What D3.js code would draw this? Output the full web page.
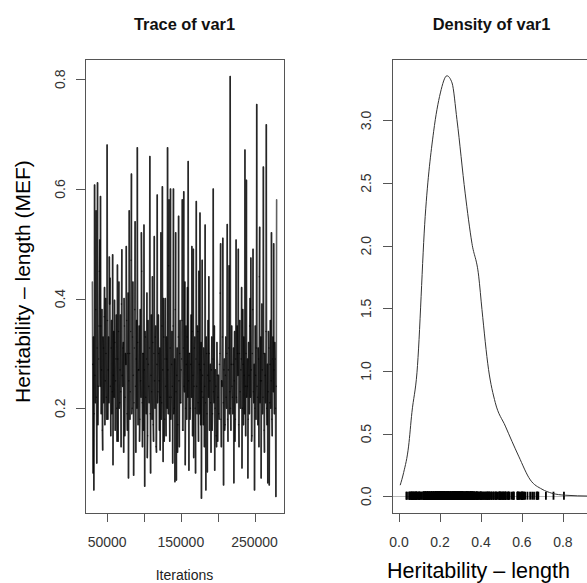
<!DOCTYPE html>
<html>
<head>
<meta charset="utf-8">
<script src="https://cdn.jsdelivr.net/npm/d3@7"></script>
<style>
  body { margin: 0; background: #fff; }
  svg { display: block; }
  text { font-family: "Liberation Sans", Arial, sans-serif; }
</style>
</head>
<body>
<div id="viz"></div>
<script>
'use strict';

// Chain of var1, one sample kept every 500 iterations from 30000 on.
const traceStart = 30000;
const traceThin = 500;
const traceValues = [
  0.43,0.28, 0.082,0.33, 0.051,0.19, 0.607,0.26, 0.21,0.38, 0.56,0.22, 0.10,0.31, 0.611,0.17, 0.24,0.29, 0.35,0.45,
  0.507,0.24, 0.586,0.35, 0.19,0.27, 0.38,0.16, 0.124,0.33, 0.31,0.21, 0.367,0.42, 0.17,0.25, 0.40,0.30, 0.22,0.18,
  0.68,0.36, 0.18,0.27, 0.33,0.21, 0.476,0.39, 0.437,0.24, 0.15,0.31, 0.36,0.19, 0.23,0.48, 0.097,0.26, 0.34,0.22,
  0.397,0.32, 0.16,0.25, 0.29,0.37, 0.20,0.14, 0.461,0.29, 0.14,0.34, 0.43,0.20, 0.21,0.27, 0.37,0.23, 0.13,0.39,
  0.489,0.26, 0.24,0.31, 0.32,0.12, 0.40,0.35, 0.15,0.22, 0.30,0.28, 0.495,0.36, 0.19,0.16, 0.30,0.41, 0.073,0.25,
  0.56,0.30, 0.18,0.23, 0.34,0.47, 0.627,0.19, 0.20,0.33, 0.43,0.26, 0.078,0.21, 0.31,0.38, 0.54,0.24, 0.12,0.29,
  0.36,0.20, 0.675,0.32, 0.17,0.27, 0.27,0.35, 0.14,0.18, 0.38,0.25, 0.22,0.52, 0.45,0.21, 0.13,0.30, 0.30,0.16,
  0.534,0.27, 0.058,0.34, 0.33,0.22, 0.19,0.29, 0.41,0.11, 0.15,0.36, 0.28,0.24, 0.21,0.31, 0.659,0.19, 0.082,0.26,
  0.37,0.23, 0.18,0.44, 0.32,0.17, 0.14,0.30, 0.513,0.25, 0.20,0.33, 0.35,0.13, 0.12,0.28, 0.589,0.21, 0.23,0.37,
  0.30,0.25, 0.16,0.31, 0.124,0.22, 0.52,0.18, 0.21,0.35, 0.604,0.27, 0.103,0.40, 0.33,0.14, 0.18,0.29, 0.40,0.24,
  0.15,0.33, 0.29,0.20, 0.675,0.27, 0.19,0.46, 0.58,0.22, 0.14,0.31, 0.60,0.18, 0.22,0.28, 0.34,0.24, 0.10,0.35,
  0.60,0.19, 0.20,0.29, 0.066,0.38, 0.52,0.23, 0.069,0.26, 0.31,0.12, 0.17,0.33, 0.55,0.25, 0.13,0.30, 0.36,0.21,
  0.21,0.27, 0.29,0.36, 0.58,0.16, 0.16,0.31, 0.595,0.24, 0.23,0.43, 0.097,0.20, 0.35,0.28, 0.18,0.33, 0.42,0.22,
  0.65,0.25, 0.087,0.30, 0.30,0.18, 0.20,0.28, 0.37,0.22, 0.495,0.34, 0.15,0.26, 0.49,0.11, 0.24,0.31, 0.33,0.20,
  0.082,0.29, 0.577,0.24, 0.19,0.35, 0.34,0.21, 0.14,0.45, 0.28,0.19, 0.556,0.27, 0.17,0.32, 0.036,0.23, 0.47,0.26,
  0.22,0.17, 0.31,0.28, 0.13,0.24, 0.534,0.21, 0.051,0.33, 0.30,0.19, 0.084,0.26, 0.36,0.22, 0.44,0.30, 0.16,0.25,
  0.28,0.21, 0.12,0.27, 0.33,0.16, 0.19,0.29, 0.60,0.23, 0.21,0.35, 0.087,0.20, 0.27,0.24, 0.15,0.13, 0.32,0.26,
  0.14,0.22, 0.26,0.19, 0.18,0.28, 0.30,0.41, 0.50,0.18, 0.13,0.25, 0.24,0.33, 0.51,0.21, 0.06,0.27, 0.29,0.16,
  0.17,0.26, 0.33,0.22, 0.20,0.30, 0.535,0.18, 0.14,0.27, 0.31,0.46, 0.19,0.23, 0.805,0.20, 0.16,0.28, 0.35,0.24,
  0.22,0.19, 0.28,0.31, 0.064,0.25, 0.34,0.14, 0.18,0.29, 0.507,0.22, 0.21,0.35, 0.30,0.26, 0.49,0.17, 0.13,0.30,
  0.36,0.23, 0.20,0.27, 0.29,0.42, 0.091,0.20, 0.38,0.28, 0.17,0.33, 0.26,0.19, 0.671,0.24, 0.15,0.30, 0.616,0.22,
  0.24,0.29, 0.073,0.18, 0.32,0.26, 0.19,0.35, 0.40,0.22, 0.474,0.27, 0.14,0.15, 0.30,0.38, 0.49,0.23, 0.21,0.28,
  0.051,0.20, 0.35,0.26, 0.18,0.31, 0.754,0.24, 0.22,0.17, 0.31,0.29, 0.13,0.44, 0.53,0.21, 0.25,0.33, 0.073,0.25,
  0.39,0.27, 0.19,0.22, 0.64,0.30, 0.16,0.12, 0.30,0.26, 0.21,0.34, 0.717,0.20, 0.17,0.28, 0.064,0.23, 0.34,0.31,
  0.06,0.21, 0.28,0.36, 0.20,0.25, 0.52,0.18, 0.15,0.29, 0.33,0.23, 0.50,0.27, 0.19,0.32, 0.29,0.20, 0.039,0.24, 0.58
];

// Kernel density of var1.
const densityX = [0.006, 0.023, 0.047, 0.063, 0.088, 0.128, 0.169, 0.202, 0.234, 0.259,
  0.283, 0.323, 0.356, 0.389, 0.405, 0.437, 0.470, 0.519, 0.584, 0.641,
  0.698, 0.746, 0.811, 0.93];
const densityY = [0.088, 0.19, 0.40, 0.667, 0.99, 2.235, 2.91, 3.22, 3.357, 3.30,
  3.006, 2.42, 2.02, 1.757, 1.49, 1.013, 0.747, 0.56, 0.32, 0.13,
  0.056, 0.024, 0.008, 0.001];

const traceXTicks = [50000, 100000, 150000, 200000, 250000];
const traceXLabels = [50000, 150000, 250000];
const traceYTicks = [0.2, 0.4, 0.6, 0.8];
const densXTicks = [0.0, 0.2, 0.4, 0.6, 0.8];
const densYTicks = [0.0, 0.5, 1.0, 1.5, 2.0, 2.5, 3.0];

const W = 587, H = 583;
const plotTop = 59, plotBottom = 513;
const tickLen = 9;

const svg = d3.select('#viz').append('svg')
    .attr('width', W)
    .attr('height', H);

function panel(x0, x1, xScale, yScale, o) {
    const g = svg.append('g');

    // y ticks + vertical labels
    g.selectAll('.yt').data(o.yTicks).enter().append('line')
        .attr('x1', x0 - tickLen).attr('x2', x0)
        .attr('y1', d => Math.round(yScale(d)) + 0.5)
        .attr('y2', d => Math.round(yScale(d)) + 0.5)
        .attr('stroke', '#555');
    g.selectAll('.yl').data(o.yTicks).enter().append('text')
        .attr('transform', d => 'translate(' + o.yLabelX + ',' + yScale(d) + ') rotate(-90)')
        .attr('text-anchor', 'middle')
        .attr('font-size', 14)
        .attr('fill', '#333')
        .text(o.yFormat);

    // x ticks + labels
    g.selectAll('.xt').data(o.xTicks).enter().append('line')
        .attr('x1', d => Math.round(xScale(d)) + 0.5)
        .attr('x2', d => Math.round(xScale(d)) + 0.5)
        .attr('y1', plotBottom).attr('y2', plotBottom + tickLen)
        .attr('stroke', '#555');
    g.selectAll('.xl').data(o.xLabels).enter().append('text')
        .attr('x', d => xScale(d))
        .attr('y', 546.5)
        .attr('text-anchor', 'middle')
        .attr('font-size', 14)
        .attr('fill', '#333')
        .text(o.xFormat);

    // box
    g.append('rect')
        .attr('x', x0 + 0.5).attr('y', plotTop + 0.5)
        .attr('width', x1 - x0).attr('height', plotBottom - plotTop)
        .attr('fill', 'none')
        .attr('stroke', '#555');

    // title
    g.append('text')
        .attr('x', (x0 + x1) / 2)
        .attr('y', 29.5)
        .attr('text-anchor', 'middle')
        .attr('font-size', 16.4)
        .attr('font-weight', 'bold')
        .attr('fill', '#111')
        .text(o.title);
    return g;
}

// ---- Trace panel ----
const tx = d3.scaleLinear().domain([20000, 290000]).range([85, 284]);
const ty = d3.scaleLinear().domain([0.009, 0.837]).range([plotBottom, plotTop]);

const trace = panel(85, 284, tx, ty, {
    yTicks: traceYTicks, yLabelX: 64.5, yFormat: d3.format('.1f'),
    xTicks: traceXTicks, xLabels: traceXLabels, xFormat: d => String(d),
    title: 'Trace of var1'
});

// each step drawn on its own so overlaps build up to solid black
const iterOf = i => traceStart + i * traceThin;
trace.append('g').selectAll('line')
    .data(d3.pairs(traceValues.map((v, i) => [iterOf(i), v])))
    .enter().append('line')
    .attr('x1', d => tx(d[0][0])).attr('y1', d => ty(d[0][1]))
    .attr('x2', d => tx(d[1][0])).attr('y2', d => ty(d[1][1]))
    .attr('stroke', '#000')
    .attr('stroke-opacity', 0.62)
    .attr('stroke-width', 1.6)
    .attr('stroke-linecap', 'round');

trace.append('text')
    .attr('x', tx(155000))
    .attr('y', 580)
    .attr('text-anchor', 'middle')
    .attr('font-size', 14)
    .attr('fill', '#222')
    .text('Iterations');

// ---- Density panel ----
const dx = d3.scaleLinear().domain([-0.034, 0.937]).range([392, 591]);
const dy = d3.scaleLinear().domain([-0.134, 3.491]).range([plotBottom, plotTop]);

const dens = panel(392, 591, dx, dy, {
    yTicks: densYTicks, yLabelX: 371, yFormat: d3.format('.1f'),
    xTicks: densXTicks, xLabels: densXTicks, xFormat: d3.format('.1f'),
    title: 'Density of var1'
});

// zero line
dens.append('line')
    .attr('x1', 393).attr('x2', 591)
    .attr('y1', Math.round(dy(0)) + 0.5).attr('y2', Math.round(dy(0)) + 0.5)
    .attr('stroke', '#bbb');

// rug of the samples
dens.selectAll('.rug').data(traceValues).enter().append('line')
    .attr('x1', d => dx(d)).attr('x2', d => dx(d))
    .attr('y1', dy(0) - 4.5).attr('y2', dy(0) + 3.5)
    .attr('stroke', '#000')
    .attr('stroke-width', 1.8);

dens.append('path')
    .datum(d3.zip(densityX, densityY))
    .attr('fill', 'none')
    .attr('stroke', '#333')
    .attr('stroke-width', 1)
    .attr('d', d3.line()
        .x(d => dx(d[0]))
        .y(d => dy(d[1]))
        .curve(d3.curveMonotoneX));

// axis annotations added on top of the plots
svg.append('text')
    .attr('transform', 'translate(30,281.5) rotate(-90)')
    .attr('text-anchor', 'middle')
    .attr('font-size', 21)
    .attr('fill', '#000')
    .text('Heritability – length (MEF)');

svg.append('text')
    .attr('x', 387)
    .attr('y', 578)
    .attr('font-size', 21.5)
    .attr('fill', '#000')
    .text('Heritability – length');
</script>
</body>
</html>
